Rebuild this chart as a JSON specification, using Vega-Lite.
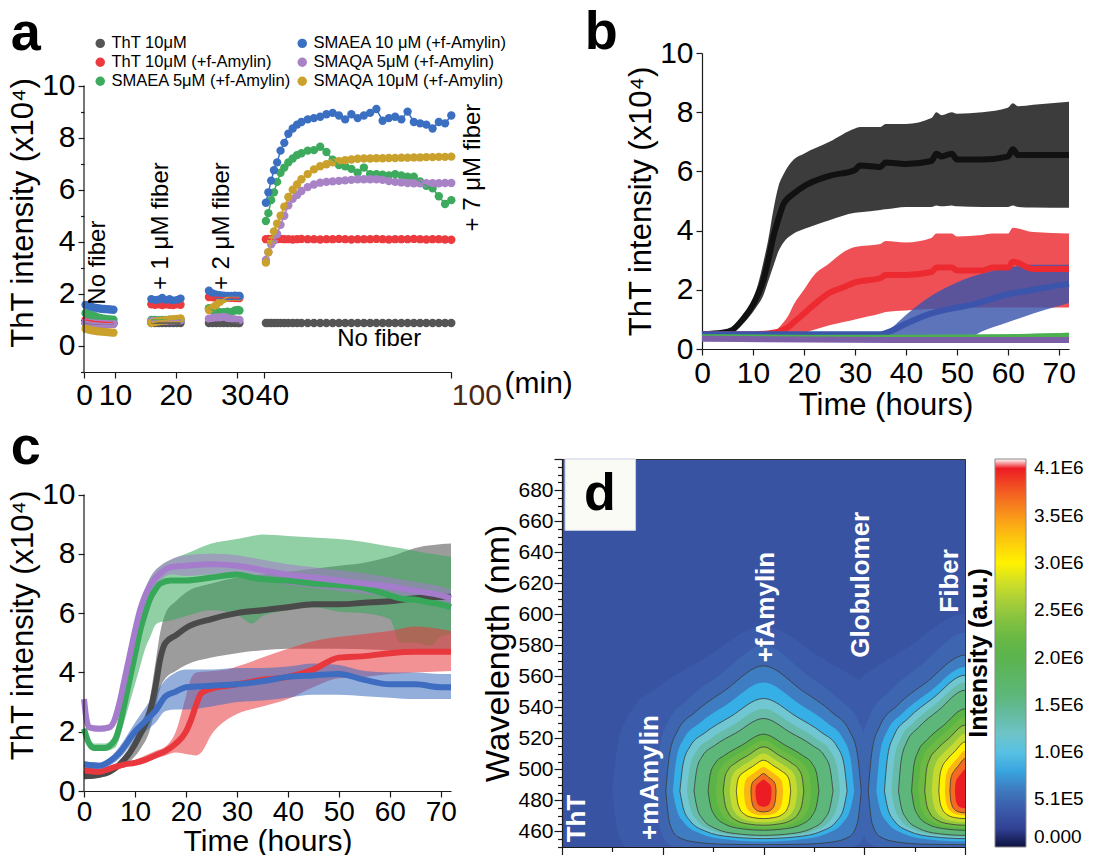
{
"$schema": "https://vega.github.io/schema/vega-lite/v6.json",
"background": "white",
"padding": {"left": 7, "top": 6, "right": 2, "bottom": 2},
"config": {
  "font": "Liberation Sans",
  "view": {"stroke": null},
  "axis": {"grid": false, "domainColor": "#1a1a1a", "tickColor": "#1a1a1a", "labelColor": "#000000", "titleColor": "#000000", "labelFont": "Liberation Sans", "titleFont": "Liberation Sans", "titleFontWeight": "normal", "labelFontSize": 30, "titleFontSize": 31, "domainWidth": 1.2, "tickWidth": 1.2, "labelPadding": 3, "titlePadding": 2, "labelOverlap": false, "labelFlush": false},
  "title": {"font": "Liberation Sans", "fontSize": 54, "fontWeight": "bold", "anchor": "start", "color": "#000000", "baseline": "alphabetic"},
  "legend": {"labelFont": "Liberation Sans", "titleFont": "Liberation Sans"}
},
"datasets": {
  "pa": [
    {"s":"ThT 10μM","g":"1","t":[0.5,1.5,2.5,3.5,4.5,5.5,6.5,7.5,8.5,9.5],"y":[0.87,0.86,0.86,0.85,0.85,0.85,0.85,0.85,0.85,0.85]},
    {"s":"ThT 10μM","g":"2","t":[16,16.6,17.2,17.8,18.4,19,19.6,20.2,20.8],"y":[0.88,0.88,0.88,0.88,0.88,0.88,0.88,0.88,0.88]},
    {"s":"ThT 10μM","g":"3","t":[25.4,26,26.6,27.2,27.8,28.4,29,29.6,30.2,30.8],"y":[0.88,0.88,0.88,0.88,0.88,0.88,0.88,0.88,0.88,0.88]},
    {"s":"ThT 10μM","g":"4","t":[40.6,41.4,42.3,43.2,44.2,45.3,46.5,47.8,49.2,50.6,52,54,56,58,60,62,64,66,68,70,72,74,76,78,80,82,84,86,88,90,92,94,96,98,100],"y":[0.88,0.88,0.88,0.88,0.88,0.88,0.88,0.88,0.88,0.88,0.88,0.88,0.88,0.88,0.88,0.88,0.88,0.88,0.88,0.88,0.88,0.88,0.88,0.88,0.88,0.88,0.88,0.88,0.88,0.88,0.88,0.88,0.88,0.88,0.88]},
    {"s":"ThT 10μM (+f-Amylin)","g":"1","t":[0.5,1.5,2.5,3.5,4.5,5.5,6.5,7.5,8.5,9.5],"y":[1.0,0.98,0.96,0.94,0.93,0.92,0.91,0.9,0.9,0.89]},
    {"s":"ThT 10μM (+f-Amylin)","g":"2","t":[16,16.6,17.2,17.8,18.4,19,19.6,20.2,20.8],"y":[1.6,1.58,1.6,1.57,1.6,1.58,1.57,1.6,1.58]},
    {"s":"ThT 10μM (+f-Amylin)","g":"3","t":[25.4,26,26.6,27.2,27.8,28.4,29,29.6,30.2,30.8],"y":[1.88,1.87,1.86,1.86,1.85,1.85,1.85,1.84,1.84,1.84]},
    {"s":"ThT 10μM (+f-Amylin)","g":"4","t":[40.6,41.4,42.3,43.2,44.2,45.3,46.5,47.8,49.2,50.6,52,54,56,58,60,62,64,66,68,70,72,74,76,78,80,82,84,86,88,90,92,94,96,98,100],"y":[4.1,4.11,4.1,4.09,4.1,4.11,4.1,4.1,4.09,4.1,4.11,4.1,4.1,4.09,4.1,4.1,4.11,4.1,4.09,4.1,4.1,4.1,4.11,4.1,4.09,4.1,4.1,4.1,4.11,4.1,4.09,4.1,4.1,4.09,4.08]},
    {"s":"SMAEA 5μM (+f-Amylin)","g":"1","t":[0.5,1.5,2.5,3.5,4.5,5.5,6.5,7.5,8.5,9.5],"y":[1.26,1.22,1.18,1.14,1.1,1.07,1.05,1.03,1.02,1.01]},
    {"s":"SMAEA 5μM (+f-Amylin)","g":"2","t":[16,16.6,17.2,17.8,18.4,19,19.6,20.2,20.8],"y":[1.0,1.0,0.99,1.0,1.0,1.01,1.0,1.0,1.0]},
    {"s":"SMAEA 5μM (+f-Amylin)","g":"3","t":[25.4,26,26.6,27.2,27.8,28.4,29,29.6,30.2,30.8],"y":[1.45,1.38,1.32,1.3,1.3,1.32,1.3,1.36,1.38,1.36]},
    {"s":"SMAEA 5μM (+f-Amylin)","g":"4","t":[40.6,41.4,42.3,43.2,44.2,45.3,46.5,47.8,49.2,50.6,52,54,56,58,60,62,64,66,68,70,72,74,76,78,80,82,84,86,88,90,92,94,96,98,100],"y":[4.8,5.1,5.6,5.9,6.3,6.65,6.85,7.05,7.2,7.33,7.4,7.5,7.52,7.65,7.45,7.15,6.95,6.9,6.8,6.65,6.85,6.6,6.6,6.58,6.55,6.6,6.55,6.5,6.5,6.32,6.15,6.05,5.75,5.45,5.6]},
    {"s":"SMAQA 5μM (+f-Amylin)","g":"1","t":[0.5,1.5,2.5,3.5,4.5,5.5,6.5,7.5,8.5,9.5],"y":[0.9,0.88,0.87,0.86,0.86,0.85,0.85,0.85,0.85,0.85]},
    {"s":"SMAQA 5μM (+f-Amylin)","g":"2","t":[16,16.6,17.2,17.8,18.4,19,19.6,20.2,20.8],"y":[0.95,0.96,0.96,0.97,0.97,0.98,0.98,0.99,0.99]},
    {"s":"SMAQA 5μM (+f-Amylin)","g":"3","t":[25.4,26,26.6,27.2,27.8,28.4,29,29.6,30.2,30.8],"y":[1.05,1.08,1.1,1.1,1.12,1.08,1.04,1.02,1.0,1.0]},
    {"s":"SMAQA 5μM (+f-Amylin)","g":"4","t":[40.6,41.4,42.3,43.2,44.2,45.3,46.5,47.8,49.2,50.6,52,54,56,58,60,62,64,66,68,70,72,74,76,78,80,82,84,86,88,90,92,94,96,98,100],"y":[3.3,3.6,3.9,4.05,4.3,4.65,5.0,5.4,5.65,5.8,5.95,6.1,6.2,6.27,6.3,6.32,6.34,6.36,6.38,6.4,6.4,6.4,6.4,6.38,6.33,6.3,6.28,6.26,6.25,6.25,6.25,6.25,6.25,6.26,6.26]},
    {"s":"SMAQA 10μM (+f-Amylin)","g":"1","t":[0.5,1.5,2.5,3.5,4.5,5.5,6.5,7.5,8.5,9.5],"y":[0.66,0.63,0.6,0.58,0.56,0.55,0.54,0.53,0.52,0.51]},
    {"s":"SMAQA 10μM (+f-Amylin)","g":"2","t":[16,16.6,17.2,17.8,18.4,19,19.6,20.2,20.8],"y":[0.88,0.92,0.95,0.97,0.99,1.01,1.03,1.04,1.06]},
    {"s":"SMAQA 10μM (+f-Amylin)","g":"3","t":[25.4,26,26.6,27.2,27.8,28.4,29,29.6,30.2,30.8],"y":[1.38,1.48,1.58,1.7,1.8,1.88,1.9,1.9,1.9,1.9]},
    {"s":"SMAQA 10μM (+f-Amylin)","g":"4","t":[40.6,41.4,42.3,43.2,44.2,45.3,46.5,47.8,49.2,50.6,52,54,56,58,60,62,64,66,68,70,72,74,76,78,80,82,84,86,88,90,92,94,96,98,100],"y":[3.2,3.6,4.05,4.4,4.7,5.0,5.35,5.72,6.0,6.2,6.4,6.6,6.78,6.9,6.98,7.05,7.1,7.13,7.16,7.19,7.2,7.2,7.21,7.21,7.22,7.22,7.23,7.23,7.24,7.24,7.25,7.25,7.26,7.26,7.27]},
    {"s":"SMAEA 10 μM (+f-Amylin)","g":"1","t":[0.5,1.5,2.5,3.5,4.5,5.5,6.5,7.5,8.5,9.5],"y":[1.58,1.54,1.5,1.47,1.45,1.43,1.42,1.41,1.4,1.39]},
    {"s":"SMAEA 10 μM (+f-Amylin)","g":"2","t":[16,16.6,17.2,17.8,18.4,19,19.6,20.2,20.8],"y":[1.8,1.76,1.78,1.84,1.76,1.8,1.74,1.76,1.82]},
    {"s":"SMAEA 10 μM (+f-Amylin)","g":"3","t":[25.4,26,26.6,27.2,27.8,28.4,29,29.6,30.2,30.8],"y":[2.12,2.02,1.97,1.95,1.93,1.92,1.92,1.93,1.92,1.92]},
    {"s":"SMAEA 10 μM (+f-Amylin)","g":"4","t":[40.6,41.4,42.3,43.2,44.2,45.3,46.5,47.8,49.2,50.6,52,54,56,58,60,62,64,66,68,70,72,74,76,78,80,82,84,86,88,90,92,94,96,98,100],"y":[5.5,5.9,6.35,6.75,7.05,7.5,7.8,8.15,8.35,8.5,8.6,8.7,8.75,8.8,8.9,8.95,8.85,8.7,8.9,8.75,8.85,8.95,9.1,8.65,8.75,8.8,8.7,9.0,8.6,8.55,8.5,8.35,8.6,8.55,8.85]}
  ],
  "pb": [
    {"s":"k","t":[0,4,6,8,10,11,12,13,14,15,16,18,20,25,30,31,35,36,40,45,46,47,49,50,55,60,61,62,65,72],"m":[0.5,0.55,0.65,1.0,1.5,1.85,2.3,3.0,3.8,4.4,4.9,5.25,5.5,5.85,6.05,6.2,6.15,6.3,6.25,6.35,6.6,6.5,6.6,6.4,6.4,6.5,6.75,6.55,6.55,6.55],"hi":[0.55,0.6,0.72,1.12,1.7,2.2,2.9,3.7,4.7,5.5,5.9,6.4,6.6,7.0,7.45,7.5,7.5,7.6,7.6,7.8,8.0,7.9,8.0,7.95,8.0,8.15,8.3,8.2,8.25,8.35],"lo":[0.45,0.5,0.58,0.85,1.25,1.5,1.8,2.3,2.8,3.3,3.6,3.9,4.05,4.35,4.6,4.62,4.7,4.72,4.8,4.8,4.85,4.82,4.85,4.82,4.8,4.8,4.85,4.8,4.78,4.77]},
    {"s":"r","t":[0,10,14,16,17,18,20,22,25,28,30,35,36,40,45,46,49,50,55,57,60,61,65,72],"m":[0.5,0.5,0.55,0.65,0.75,0.9,1.2,1.5,1.9,2.1,2.25,2.4,2.5,2.5,2.6,2.75,2.75,2.65,2.65,2.75,2.75,2.95,2.7,2.7],"hi":[0.55,0.55,0.6,0.9,1.15,1.5,2.0,2.5,2.9,3.3,3.45,3.55,3.65,3.6,3.75,3.9,3.9,3.8,3.85,3.9,3.9,4.1,3.95,3.9],"lo":[0.45,0.45,0.48,0.5,0.5,0.5,0.55,0.65,0.8,0.92,1.0,1.2,1.25,1.3,1.35,1.35,1.38,1.4,1.4,1.4,1.4,1.4,1.4,1.4]},
    {"s":"bl","t":[0,35,37,40,45,50,53,55,60,65,70,72],"m":[0.5,0.5,0.6,0.85,1.2,1.4,1.5,1.6,1.85,2.0,2.15,2.2],"hi":[0.55,0.55,0.7,1.15,1.8,2.25,2.45,2.55,2.75,2.85,2.85,2.85],"lo":[0.45,0.45,0.45,0.45,0.45,0.45,0.45,0.6,0.9,1.2,1.45,1.55]},
    {"s":"g","t":[0,20,40,60,72],"m":[0.4,0.38,0.38,0.4,0.45],"hi":[0.5,0.48,0.47,0.5,0.55],"lo":[0.3,0.28,0.28,0.3,0.35]},
    {"s":"p","t":[0,20,40,60,72],"m":[0.35,0.32,0.3,0.3,0.3],"hi":[0.42,0.4,0.38,0.38,0.38],"lo":[0.28,0.25,0.23,0.23,0.23]}
  ],
  "pc": [
    {"s":"k","t":[0,3,5,7,9,11,13,14,15,16,18,20,25,30,35,40,45,50,55,60,65,72],"m":[0.5,0.55,0.65,0.9,1.3,1.9,2.7,3.5,4.5,5.0,5.25,5.5,5.8,6.0,6.1,6.2,6.3,6.3,6.35,6.4,6.5,6.55],"hi":[0.6,0.65,0.78,1.0,1.4,2.2,3.2,4.3,5.4,6.0,6.4,6.7,7.0,7.2,7.3,7.4,7.5,7.6,7.7,7.9,8.2,8.35],"lo":[0.4,0.45,0.55,0.75,1.0,1.4,2.1,2.8,3.5,3.8,4.05,4.25,4.5,4.65,4.75,4.8,4.8,4.8,4.78,4.75,4.75,4.75]},
    {"s":"g","t":[0,1,2,4,6,7,8,9,10,11,12,13,14,15,17,20,25,30,33,35,40,45,50,55,60,62,65,68,70,72],"m":[2.1,1.6,1.45,1.45,1.7,2.2,3.0,3.8,4.6,5.4,6.0,6.5,6.8,7.0,7.1,7.1,7.2,7.3,7.2,7.15,7.1,7.0,6.95,6.85,6.6,6.5,6.45,6.35,6.3,6.2],"hi":[2.2,1.8,1.6,1.6,1.9,2.6,3.5,4.4,5.3,6.1,6.8,7.2,7.45,7.6,7.8,8.0,8.35,8.5,8.6,8.65,8.6,8.55,8.5,8.4,8.25,8.2,8.1,8.0,7.95,7.9],"lo":[1.9,1.45,1.35,1.35,1.45,1.8,2.4,3.0,3.6,4.2,4.8,5.2,5.6,5.7,5.75,5.9,6.1,5.95,5.65,5.9,6.1,6.2,6.05,6.0,5.8,5.0,5.0,4.9,5.2,5.3]},
    {"s":"p","t":[0,0.5,1,3,5,6,7,8,9,10,11,12,13,15,17,20,25,30,35,40,45,50,55,60,65,70,72],"m":[3.1,2.4,2.15,2.1,2.15,2.4,3.0,3.8,4.6,5.4,6.1,6.6,6.95,7.35,7.55,7.6,7.65,7.6,7.45,7.3,7.2,7.1,7.0,6.9,6.75,6.6,6.5],"hi":[3.2,2.5,2.25,2.2,2.25,2.55,3.2,4.0,4.8,5.6,6.3,6.8,7.2,7.6,7.8,7.95,8.0,7.95,7.8,7.65,7.55,7.45,7.35,7.2,7.05,6.9,6.8],"lo":[3.0,2.3,2.05,2.0,2.05,2.25,2.8,3.6,4.4,5.2,5.9,6.4,6.7,7.1,7.3,7.25,7.3,7.25,7.1,6.95,6.85,6.75,6.65,6.55,6.45,6.3,6.2]},
    {"s":"r","t":[0,3,5,8,10,12,14,16,18,20,21,22,23,25,28,30,35,40,45,50,55,60,65,72],"m":[0.7,0.65,0.75,0.9,0.95,1.05,1.2,1.35,1.6,2.0,2.4,2.9,3.3,3.45,3.55,3.6,3.75,3.85,4.1,4.5,4.55,4.65,4.7,4.7],"hi":[0.8,0.75,0.85,0.98,1.05,1.2,1.35,1.5,2.0,3.2,3.8,4.0,4.02,4.05,4.1,4.2,4.5,4.8,5.05,5.2,5.3,5.4,5.55,5.4],"lo":[0.6,0.55,0.65,0.8,0.9,0.98,1.1,1.2,1.3,1.25,1.22,1.2,1.3,1.9,2.4,2.6,2.85,3.1,3.5,3.8,3.85,3.95,4.0,4.05]},
    {"s":"b","t":[0,3,5,7,10,12,14,16,18,20,25,30,35,40,45,50,55,60,65,70,72],"m":[0.9,0.85,1.0,1.3,2.0,2.35,2.7,3.2,3.35,3.5,3.55,3.6,3.7,3.85,3.9,3.95,3.75,3.6,3.6,3.5,3.5],"hi":[1.0,0.95,1.1,1.5,2.3,2.8,3.3,3.75,4.0,4.1,4.1,4.15,4.15,4.2,4.3,4.25,4.05,4.0,4.0,3.95,3.95],"lo":[0.8,0.75,0.85,1.1,1.7,2.0,2.3,2.7,2.75,2.75,2.85,3.0,3.05,3.15,3.25,3.25,3.2,3.15,3.1,3.1,3.1]}
  ],
  "dc": [
    {"k":"a1","v":400000,"ln":0,"x":[0.5,0.56,0.68,0.95,1.4,2.0,2.6,3.05,3.32,3.44,3.5],"lo":[486,458.4,446.9,442.3,440.5,440,440.5,442.3,446.9,458.4,486],"hi":[486,517.8,536.9,552.8,570.8,592,570.8,552.8,536.9,517.8,486]},
    {"k":"b1","v":400000,"ln":0,"x":[2.5,2.56,2.68,2.95,3.4,4.0,4.6],"lo":[486,458.4,446.9,442.3,440.5,440,440.5],"hi":[486,520.2,540.7,557.8,577.2,600,577.2]},
    {"k":"a2","v":500000,"ln":0,"x":[0.93,0.973,1.058,1.251,1.572,2.0,2.428,2.749,2.942,3.027,3.07],"lo":[486,462,452,448,446.4,446,446.4,448,452,462,486],"hi":[486,514.2,531.1,545.2,561.2,580,561.2,545.2,531.1,514.2,486]},
    {"k":"b2","v":500000,"ln":0,"x":[2.93,2.973,3.058,3.251,3.572,4.0,4.428],"lo":[486,462,452,448,446.4,446,446.4],"hi":[486,516.6,535,550.3,567.6,588,567.6]},
    {"k":"a3","v":620000,"ln":1,"x":[1.03,1.069,1.146,1.321,1.612,2.0,2.388,2.679,2.854,2.931,2.97],"lo":[486,465.3,456.7,453.2,451.8,451.5,451.8,453.2,456.7,465.3,486],"hi":[486,510.2,524.7,536.8,550.6,566.7,550.6,536.8,524.7,510.2,486]},
    {"k":"b3","v":620000,"ln":1,"x":[3.04,3.078,3.155,3.328,3.616,4.0,4.384],"lo":[486,465.3,456.7,453.2,451.8,451.5,451.8],"hi":[486,512.3,528,541.2,556.1,573.6,556.1]},
    {"k":"a4","v":850000,"ln":0,"x":[1.1,1.136,1.208,1.37,1.64,2.0,2.36,2.63,2.792,2.864,2.9],"lo":[486,474.6,465.9,458.7,454.8,453.5,454.8,458.7,465.9,474.6,486],"hi":[486,507,519.6,530.1,542,556,542,530.1,519.6,507,486]},
    {"k":"b4","v":850000,"ln":0,"x":[3.12,3.155,3.226,3.384,3.648,4.0,4.352],"lo":[486,474.6,465.9,458.7,454.8,453.5,454.8],"hi":[486,510,524.4,536.4,550,566,550]},
    {"k":"a5","v":1150000,"ln":1,"x":[1.17,1.203,1.27,1.419,1.668,2.0,2.332,2.581,2.73,2.797,2.83],"lo":[486,475.3,467,460.3,456.6,455.4,456.6,460.3,467,475.3,486],"hi":[486,503.9,514.7,523.6,533.8,545.7,533.8,523.6,514.7,503.9,486]},
    {"k":"b5","v":1150000,"ln":1,"x":[3.2,3.232,3.296,3.44,3.68,4.0,4.32],"lo":[486,475.3,467,460.3,456.6,455.4,456.6],"hi":[486,508.4,521.9,533.1,545.8,560.7,545.8]},
    {"k":"a6","v":1350000,"ln":0,"x":[1.24,1.27,1.331,1.468,1.696,2.0,2.304,2.532,2.669,2.73,2.76],"lo":[486,475.7,467.7,461.2,457.7,456.5,457.7,461.2,467.7,475.7,486],"hi":[486,501.9,511.4,519.4,528.4,539,528.4,519.4,511.4,501.9,486]},
    {"k":"b6","v":1350000,"ln":0,"x":[3.27,3.299,3.358,3.489,3.708,4.0,4.292],"lo":[486,475.7,467.7,461.2,457.7,456.5,457.7],"hi":[486,507,519.6,530.1,542,556,542]},
    {"k":"a7","v":1600000,"ln":1,"x":[1.31,1.338,1.393,1.517,1.724,2.0,2.276,2.483,2.607,2.662,2.69],"lo":[486,476,468.3,462.1,458.6,457.5,458.6,462.1,468.3,476,486],"hi":[486,500,508.5,515.5,523.4,532.8,523.4,515.5,508.5,500,486]},
    {"k":"b7","v":1600000,"ln":1,"x":[3.34,3.366,3.419,3.538,3.736,4.0,4.264],"lo":[486,476,468.3,462.1,458.6,457.5,458.6],"hi":[486,505.5,517.2,527,538,551,538]},
    {"k":"a8","v":2050000,"ln":1,"x":[1.45,1.472,1.516,1.615,1.78,2.0,2.22,2.385,2.484,2.528,2.55],"lo":[486,477.2,470.4,464.8,461.8,460.8,461.8,464.8,470.4,477.2,486],"hi":[486,497,503.6,509.1,515.4,522.7,515.4,509.1,503.6,497,486]},
    {"k":"b8","v":2050000,"ln":1,"x":[3.47,3.491,3.534,3.629,3.788,4.0,4.212],"lo":[486,477.2,470.4,464.8,461.8,460.8,461.8],"hi":[486,501.9,511.4,519.4,528.4,539,528.4]},
    {"k":"a9","v":2250000,"ln":0,"x":[1.525,1.544,1.582,1.668,1.81,2.0,2.19,2.333,2.418,2.456,2.475],"lo":[486,477.7,471.4,466.2,463.3,462.4,463.3,466.2,471.4,477.7,486],"hi":[486,495.8,501.6,506.5,512.1,518.6,512.1,506.5,501.6,495.8,486]},
    {"k":"b9","v":2250000,"ln":0,"x":[3.535,3.554,3.591,3.675,3.814,4.0,4.186],"lo":[486,477.7,471.4,466.2,463.3,462.4,463.3],"hi":[486,500.4,509,516.2,524.4,534,524.4]},
    {"k":"a10","v":2500000,"ln":1,"x":[1.6,1.616,1.648,1.72,1.84,2.0,2.16,2.28,2.352,2.384,2.4],"lo":[486,478.3,472.4,467.5,464.9,464,464.9,467.5,472.4,478.3,486],"hi":[486,494.6,499.7,504,508.8,514.5,508.8,504,499.7,494.6,486]},
    {"k":"b10","v":2500000,"ln":1,"x":[3.6,3.616,3.648,3.72,3.84,4.0,4.16],"lo":[486,478.3,472.4,467.5,464.9,464,464.9],"hi":[486,498.8,506.4,512.8,520,528.5,520]},
    {"k":"a11","v":2750000,"ln":0,"x":[1.665,1.678,1.705,1.766,1.866,2.0,2.134,2.234,2.295,2.322,2.335],"lo":[486,479,473.6,469.2,466.8,466,466.8,469.2,473.6,479,486],"hi":[486,493.3,497.6,501.2,505.4,510.2,505.4,501.2,497.6,493.3,486]},
    {"k":"b11","v":2750000,"ln":0,"x":[3.67,3.683,3.71,3.769,3.868,4.0,4.132],"lo":[486,479,473.6,469.2,466.8,466,466.8],"hi":[486,497.1,503.8,509.3,515.6,523,515.6]},
    {"k":"a12","v":3000000,"ln":1,"x":[1.73,1.741,1.762,1.811,1.892,2.0,2.108,2.189,2.238,2.259,2.27],"lo":[486,479.8,475,471.1,469,468.3,469,471.1,475,479.8,486],"hi":[486,492,495.6,498.5,501.9,505.9,501.9,498.5,495.6,492,486]},
    {"k":"b12","v":3000000,"ln":1,"x":[3.74,3.75,3.771,3.818,3.896,4.0,4.104],"lo":[486,479.8,475,471.1,469,468.3,469],"hi":[486,495.5,501.2,506,511.4,517.7,511.4]},
    {"k":"a13","v":3350000,"ln":0,"x":[1.805,1.813,1.828,1.864,1.922,2.0,2.078,2.136,2.172,2.187,2.195],"lo":[486,480.5,476.3,472.9,471,470.4,471,472.9,476.3,480.5,486],"hi":[486,490.7,493.5,495.8,498.5,501.6,498.5,495.8,493.5,490.7,486]},
    {"k":"b13","v":3350000,"ln":0,"x":[3.8,3.808,3.824,3.86,3.92,4.0,4.08],"lo":[486,480.5,476.3,472.9,471,470.4,471],"hi":[486,493.8,498.5,502.4,506.8,512,506.8]},
    {"k":"a14","v":3700000,"ln":1,"x":[1.875,1.88,1.89,1.913,1.95,2.0,2.05,2.087,2.11,2.12,2.125],"lo":[486,481.3,477.7,474.7,473.1,472.6,473.1,474.7,477.7,481.3,486],"hi":[486,489.4,491.4,493.1,495,497.3,495,493.1,491.4,489.4,486]},
    {"k":"b14","v":3700000,"ln":1,"x":[3.85,3.856,3.868,3.895,3.94,4.0,4.06],"lo":[486,481.1,477.3,474.2,472.6,472,472.6],"hi":[486,492.3,496.1,499.2,502.8,507,502.8]},
    {"k":"a15","v":4000000,"ln":0,"x":[1.92,1.923,1.93,1.944,1.968,2.0,2.032,2.056,2.07,2.077,2.08],"lo":[486,482.5,479.8,477.6,476.4,476,476.4,477.6,479.8,482.5,486],"hi":[486,488.3,489.6,490.7,492,493.5,492,490.7,489.6,488.3,486]},
    {"k":"b15","v":4000000,"ln":0,"x":[3.9,3.904,3.912,3.93,3.96,4.0,4.04],"lo":[486,482.2,479.2,476.8,475.4,475,475.4],"hi":[486,490.2,492.7,494.8,497.2,500,497.2]}
  ]
},
"spacing": 0,
"resolve": {"scale": {"color": "independent"}, "legend": {"color": "independent"}},
"vconcat": [
  {
    "spacing": 11,
    "resolve": {"scale": {"color": "independent"}, "legend": {"color": "independent"}},
    "hconcat": [
      {
        "width": 367, "height": 319,
        "title": {"text": "a", "offset": -26, "dx": 3},
        "data": {"name": "pa"},
        "encoding": {
          "x": {"field": "t", "type": "quantitative", "scale": {"domain": [0, 10, 20, 30, 40, 100], "range": [0, 31, 91.6, 153.3, 180, 367.3]},
                "axis": {"values": [0, 10, 20, 30, 40, 100], "title": "(min)", "titleX": 420, "titleY": 20, "titleAlign": "left", "titleBaseline": "alphabetic", "titleAngle": 0, "titleFontSize": 30, "tickSize": 6, "labelPadding": 2,
                         "labelAlign": {"condition": {"test": "datum.value == 100", "value": "left"}, "value": "center"},
                         "labelOffset": {"condition": {"test": "datum.value == 40", "value": 8}, "value": 0},
                         "labelColor": {"condition": {"test": "datum.value == 100", "value": "#4a2812"}, "value": "#000000"}}},
          "y": {"field": "y", "type": "quantitative", "scale": {"domain": [-1, 11.25], "nice": false, "zero": false},
                "axis": {"domain": false, "values": [-1, 0, 1, 2, 3, 4, 5, 6, 7, 8, 9, 10], "labelExpr": "datum.value % 2 == 0 ? datum.label : ''", "tickSize": {"condition": {"test": "datum.value % 2 == 0", "value": 6}, "value": 3.5}, "title": "ThT intensity (x10⁴)"}}
        },
        "layer": [
          {
            "transform": [{"flatten": ["t", "y"]}],
            "mark": {"type": "point", "filled": true, "size": 70, "opacity": 1},
            "encoding": {
              "color": {"field": "s", "type": "nominal",
                        "scale": {"domain": ["ThT 10μM", "ThT 10μM (+f-Amylin)", "SMAEA 5μM (+f-Amylin)", "SMAEA 10 μM (+f-Amylin)", "SMAQA 5μM (+f-Amylin)", "SMAQA 10μM (+f-Amylin)"], "range": ["#555555", "#ec3b3f", "#3daa5e", "#3b6fc1", "#a883c6", "#c9a12c"]},
                        "legend": {"orient": "none", "legendX": 8, "legendY": -18, "columns": 2, "title": null, "symbolType": "circle", "symbolSize": 90, "symbolStrokeWidth": 0, "labelFontSize": 16.5, "labelColor": "#000000", "rowPadding": 2, "columnPadding": 2, "labelOffset": 3, "labelLimit": 300}}
            }
          },
          {
            "transform": [{"flatten": ["t", "y"]}],
            "mark": {"type": "line", "strokeWidth": 1.5},
            "encoding": {
              "color": {"field": "s", "type": "nominal"},
              "detail": {"field": "g"}
            }
          },
          {
            "data": {"values": [{"t": 0, "y": -1, "y2": 10}]},
            "mark": {"type": "rule", "color": "#1a1a1a", "strokeWidth": 1.2},
            "encoding": {"y2": {"field": "y2"}}
          },
          {
            "data": {"values": [
              {"t": 4.4, "y": 3.2, "txt": "No fiber"},
              {"t": 17.6, "y": 4.6, "txt": "+ 1 μM fiber"},
              {"t": 27.6, "y": 4.6, "txt": "+ 2 μM fiber"},
              {"t": 107, "y": 6.85, "txt": "+ 7 μM fiber"}
            ]},
            "mark": {"type": "text", "angle": 270, "fontSize": 24, "align": "center", "baseline": "middle", "color": "#000000"},
            "encoding": {"text": {"field": "txt"}}
          },
          {
            "data": {"values": [{"t": 76.9, "y": 0.25, "txt": "No fiber"}]},
            "mark": {"type": "text", "fontSize": 24, "align": "center", "baseline": "middle", "color": "#000000"},
            "encoding": {"text": {"field": "txt"}}
          }
        ]
      },
      {
        "width": 367, "height": 296,
        "title": {"text": "b", "offset": -22, "dx": -41},
        "data": {"name": "pb"},
        "transform": [{"flatten": ["t", "m", "lo", "hi"]}],
        "layer": [
          {
            "mark": {"type": "area", "interpolate": "monotone", "opacity": 0.82},
            "encoding": {
              "x": {"field": "t", "type": "quantitative", "scale": {"domain": [0, 72], "nice": false, "zero": false},
                    "axis": {"values": [0, 5, 10, 15, 20, 25, 30, 35, 40, 45, 50, 55, 60, 65, 70], "labelExpr": "datum.value % 10 == 0 ? datum.label : ''", "tickSize": {"condition": {"test": "datum.value % 10 == 0", "value": 6}, "value": 4}, "title": "Time (hours)"}},
              "y": {"field": "hi", "type": "quantitative", "scale": {"domain": [0, 10], "nice": false, "zero": false},
                    "axis": {"values": [0, 1, 2, 3, 4, 5, 6, 7, 8, 9, 10], "labelExpr": "datum.value % 2 == 0 ? datum.label : ''", "tickSize": {"condition": {"test": "datum.value % 2 == 0", "value": 6}, "value": 3.5}, "title": "ThT intensity (x10⁴)"}},
              "y2": {"field": "lo"},
              "color": {"field": "s", "type": "nominal", "scale": {"domain": ["k", "r", "bl", "g", "p"], "range": ["#111111", "#ec2a30", "#3a55ab", "#4cb050", "#7d5fa8"]}, "legend": null}
            }
          },
          {
            "mark": {"type": "line", "interpolate": "monotone", "strokeWidth": 6},
            "encoding": {
              "x": {"field": "t", "type": "quantitative"},
              "y": {"field": "m", "type": "quantitative"},
              "color": {"field": "s", "type": "nominal"}
            }
          }
        ]
      }
    ]
  },
  {
    "spacing": 18,
    "resolve": {"scale": {"color": "independent"}, "legend": {"color": "independent"}},
    "hconcat": [
      {
        "width": 367, "height": 332,
        "title": {"text": "c", "offset": -15.5, "dx": 3},
        "data": {"name": "pc"},
        "layer": [
          {
            "transform": [{"flatten": ["t", "m", "lo", "hi"]}],
            "mark": {"type": "area", "interpolate": "monotone", "opacity": 0.55},
            "encoding": {
              "x": {"field": "t", "type": "quantitative", "scale": {"domain": [0, 72], "nice": false, "zero": false},
                    "axis": {"values": [0, 5, 10, 15, 20, 25, 30, 35, 40, 45, 50, 55, 60, 65, 70], "labelExpr": "datum.value % 10 == 0 ? datum.label : ''", "tickSize": {"condition": {"test": "datum.value % 10 == 0", "value": 6}, "value": 4}, "title": "Time (hours)", "labelFontSize": 28, "labelPadding": 1, "titleFontSize": 30, "titlePadding": 0}},
              "y": {"field": "hi", "type": "quantitative", "scale": {"domain": [0, 11.2], "nice": false, "zero": false},
                    "axis": {"domain": false, "values": [0, 1, 2, 3, 4, 5, 6, 7, 8, 9, 10], "labelExpr": "datum.value % 2 == 0 ? datum.label : ''", "tickSize": {"condition": {"test": "datum.value % 2 == 0", "value": 6}, "value": 3.5}, "title": "ThT intensity (x10⁴)"}},
              "y2": {"field": "lo"},
              "color": {"field": "s", "type": "nominal", "scale": {"domain": ["k", "g", "p", "r", "b"], "range": ["#4a4a4a", "#37a85a", "#a47ccb", "#e8383d", "#3d6cc0"]}, "legend": null}
            }
          },
          {
            "transform": [{"flatten": ["t", "m", "lo", "hi"]}],
            "mark": {"type": "line", "interpolate": "monotone", "strokeWidth": 6},
            "encoding": {
              "x": {"field": "t", "type": "quantitative"},
              "y": {"field": "m", "type": "quantitative"},
              "color": {"field": "s", "type": "nominal"}
            }
          },
          {
            "data": {"values": [{"t": 0, "v": 0, "v2": 10}]},
            "mark": {"type": "rule", "color": "#1a1a1a", "strokeWidth": 1.2},
            "encoding": {"x": {"field": "t", "type": "quantitative"}, "y": {"field": "v", "type": "quantitative"}, "y2": {"field": "v2"}}
          }
        ]
      },
      {
        "width": 403, "height": 388,
        "view": {"fill": "#3953a3", "stroke": "#333333", "strokeWidth": 1},
        "encoding": {
          "x": {"field": "x", "type": "quantitative", "scale": {"domain": [0, 4], "nice": false, "zero": false},
                "axis": {"values": [0, 0.5, 1, 1.5, 2, 2.5, 3, 3.5, 4], "labelExpr": "''", "title": null, "tickSize": {"condition": {"test": "datum.value % 1 == 0", "value": 8}, "value": 4.5}}},
          "y": {"field": "hi", "type": "quantitative", "scale": {"domain": [450, 700], "nice": false, "zero": false},
                "axis": {"values": [450,455,460,465,470,475,480,485,490,495,500,505,510,515,520,525,530,535,540,545,550,555,560,565,570,575,580,585,590,595,600,605,610,615,620,625,630,635,640,645,650,655,660,665,670,675,680,685,690,695,700],
                         "labelExpr": "datum.value % 20 == 0 ? (datum.value == 700 ? '' : datum.label) : ''", "tickSize": {"condition": {"test": "datum.value % 20 == 0", "value": 8}, "value": 4.5}, "labelFontSize": 21, "labelPadding": 1, "title": "Wavelength (nm)", "titleFontSize": 34}}
        },
        "layer": [
          {
            "data": {"name": "dc"},
            "transform": [{"flatten": ["x", "lo", "hi"]}],
            "mark": {"type": "area", "interpolate": "monotone", "clip": true},
            "encoding": {
              "y2": {"field": "lo"},
              "detail": {"field": "k"},
              "color": {"field": "v", "type": "quantitative",
                        "scale": {"domain": [0, 150000, 300000, 420000, 520000, 620000, 750000, 870000, 1000000, 1150000, 1350000, 1600000, 2050000, 2250000, 2500000, 2750000, 3000000, 3350000, 3700000, 4000000, 4100000],
                                  "range": ["#0d1240", "#2e3a8e", "#3953a3", "#3b5cab", "#3e67b1", "#3e7dc1", "#3a9ad7", "#34b3e8", "#58c1e3", "#70c6d1", "#67bca9", "#5db77a", "#5bb448", "#6cb944", "#94c83e", "#c5da30", "#fff200", "#fcb614", "#f36b22", "#ec1c24", "#ffffff"],
                                  "interpolate": "rgb", "nice": false, "zero": false},
                        "legend": {"orient": "right", "offset": 2, "padding": 0, "direction": "vertical", "gradientLength": 388, "gradientThickness": 31, "title": "Intensity (a.u.)", "titleOrient": "left", "titleFontSize": 25, "titleFontWeight": "bold", "titleAnchor": "middle", "titlePadding": 2, "titleColor": "#000000", "labelFontSize": 19, "labelColor": "#000000", "labelOffset": 8, "labelOverlap": false, "gradientStrokeColor": "#888888", "gradientStrokeWidth": 1,
                                   "values": [0, 510000, 1000000, 1500000, 2000000, 2500000, 3000000, 3500000, 4100000],
                                   "labelExpr": "datum.value == 0 ? '0.000' : datum.value == 510000 ? '5.1E5' : format(datum.value / 1000000, '.1f') + 'E6'"}}
            }
          },
          {
            "data": {"name": "dc"},
            "transform": [{"flatten": ["x", "lo", "hi"]}, {"filter": "datum.ln == 1"}],
            "mark": {"type": "area", "interpolate": "monotone", "clip": true, "fillOpacity": 0, "stroke": "#3a3a3a", "strokeWidth": 0.8},
            "encoding": {
              "y2": {"field": "lo"},
              "detail": {"field": "k"}
            }
          },
          {
            "data": {"values": [
              {"x": 0.15, "hi": 453, "txt": "ThT"},
              {"x": 0.87, "hi": 454.5, "txt": "+mAmylin"},
              {"x": 2.02, "hi": 569, "txt": "+fAmylin"},
              {"x": 2.97, "hi": 572, "txt": "Globulomer"},
              {"x": 3.85, "hi": 601, "txt": "Fiber"}
            ]},
            "mark": {"type": "text", "angle": 270, "align": "left", "baseline": "middle", "fontSize": 26, "fontWeight": "bold", "color": "#ffffff"},
            "encoding": {"text": {"field": "txt"}}
          },
          {
            "data": {"values": [{"x": 0.03, "x2": 0.73, "hi": 654, "lo": 700}]},
            "mark": {"type": "rect", "fill": "#fbfbf6", "stroke": "#c8cde0", "strokeWidth": 1},
            "encoding": {"x2": {"field": "x2"}, "y2": {"field": "lo"}}
          },
          {
            "data": {"values": [{"x": 0.375, "hi": 667, "lab": "d"}]},
            "mark": {"type": "text", "fontSize": 52, "fontWeight": "bold", "align": "center", "baseline": "alphabetic", "color": "#000000"},
            "encoding": {"text": {"field": "lab"}}
          }
        ]
      }
    ]
  }
]
}
